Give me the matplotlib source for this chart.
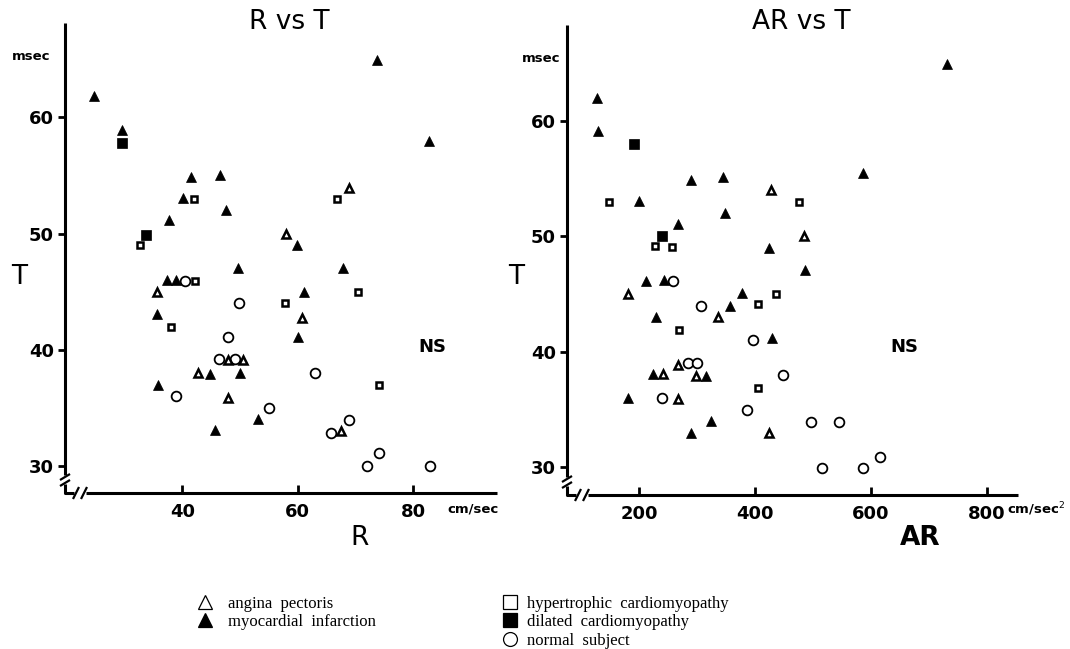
"""R vs T and AR vs T scatter plots with broken axes."""

import matplotlib
matplotlib.use("Agg")
import matplotlib.pyplot as plt
from matplotlib.lines import Line2D

# --- data: R (cm/sec) vs T (msec) ---
ap_r = [68.9, 57.9, 35.7, 60.8, 47.9, 50.5, 42.8, 48.0, 67.5]
ap_t = [53.9, 50.0, 45.0, 42.7, 39.1, 39.1, 38.0, 35.9, 33.0]
mi_r = [24.7, 29.5, 73.8, 82.8, 41.5, 46.6, 40.2, 47.5, 37.7, 59.8, 49.7,
        37.3, 39.0, 35.7, 67.9, 61.1, 60.0, 44.8, 50.0, 35.8, 45.7, 53.1]
mi_t = [61.8, 58.9, 64.9, 58.0, 54.9, 55.0, 53.1, 52.0, 51.2, 49.0, 47.0,
        46.0, 46.0, 43.1, 47.0, 45.0, 41.1, 37.9, 38.0, 37.0, 33.1, 34.1]
hc_r = [42.0, 66.8, 32.7, 42.2, 38.0, 70.5, 57.8, 74.0]
hc_t = [53.0, 53.0, 49.0, 45.9, 42.0, 45.0, 44.0, 37.0]
dc_r = [29.6, 33.7]
dc_t = [57.8, 49.9]
ns_r = [40.5, 49.8, 47.9, 46.4, 49.1, 63.0, 38.9, 55.0, 68.9, 65.8, 74.0,
        72.0, 82.9]
ns_t = [45.9, 44.0, 41.1, 39.2, 39.2, 38.0, 36.0, 35.0, 34.0, 32.9, 31.1,
        30.0, 30.0]

# --- data: AR (cm/sec^2) vs T (msec) ---
ap_ar = [427.8, 484.7, 180.5, 336.9, 266.8, 241.9, 297.8, 267.8, 424.9]
ap_t2 = [54.0, 50.0, 45.0, 43.0, 38.9, 38.1, 37.9, 35.9, 33.0]
mi_ar = [128, 129.8, 731, 587, 289.2, 345.5, 200, 348.4, 267.9, 424.9,
         211.5, 243.1, 377.2, 357.0, 228.8, 429, 487, 224.7, 315.6, 181.5,
         324.2, 289.7]
mi_t2 = [62.0, 59.1, 64.9, 55.5, 54.9, 55.1, 53.1, 52.0, 51.1, 49.0, 46.1,
         46.2, 45.1, 44.0, 43.0, 41.2, 47.1, 38.1, 37.9, 36.0, 34.0, 33.0]
hc_ar = [148.7, 475.6, 227.6, 257.5, 436.4, 404.8, 269.6, 405.9]
hc_t2 = [53.0, 53.0, 49.2, 49.1, 45.0, 44.1, 41.9, 36.9]
dc_ar = [190.9, 239.1]
dc_t2 = [58.0, 50.0]
ns_ar = [259.2, 307.0, 397.3, 284, 299.6, 448, 239.7, 386.9, 496.3, 545.1,
         516.3, 587.1, 615.4]
ns_t2 = [46.1, 44.0, 41.0, 39.0, 39.0, 38.0, 36.0, 35.0, 33.9, 33.9, 29.9,
         29.9, 30.9]

r_ticks = [40, 60, 80]
ar_ticks = [200, 400, 600, 800]
t_ticks = [30, 40, 50, 60]

W, H = 1070, 649
SANS = "DejaVu Sans"


def broken_axes(ax, pos):
    """Draw left/bottom axis lines with // break marks near the corner."""
    fx = lambda p: p / (pos[2] * W)
    fy = lambda p: p / (pos[3] * H)
    kw = dict(transform=ax.transAxes, clip_on=False, color="black",
              lw=2.2, solid_capstyle="butt")
    ax.plot([0, 0], [1, fy(18)], **kw)
    ax.plot([0, 0, fx(9)], [fy(9), 0, 0], **kw)
    ax.plot([fx(21), 1], [0, 0], **kw)
    thin = dict(kw, lw=1.6)
    for yy in (fy(10), fy(16)):
        ax.plot([-fx(5), fx(5)], [yy - fy(3), yy + fy(3)], **thin)
    for xx in (fx(11), fx(19)):
        ax.plot([xx - fx(3), xx + fx(3)], [-fy(6), fy(6)], **thin)


def style_axes(ax, pos, xlim, ylim, xticks):
    ax.set_xlim(*xlim)
    ax.set_ylim(*ylim)
    for s in ax.spines.values():
        s.set_visible(False)
    ax.set_xticks(xticks)
    ax.set_yticks(t_ticks)
    ax.tick_params(axis="y", direction="out", length=5, width=2, pad=3,
                   labelsize=13)
    ax.tick_params(axis="x", direction="in", length=6, width=2, pad=7,
                   labelsize=13)
    for lab in ax.get_xticklabels() + ax.get_yticklabels():
        lab.set_fontweight("bold")
        lab.set_family(SANS)
    broken_axes(ax, pos)


def scatter_groups(ax, xs, ys):
    (ap_x, mi_x, hc_x, dc_x, ns_x) = xs
    (ap_y, mi_y, hc_y, dc_y, ns_y) = ys
    ax.plot(ns_x, ns_y, "o", ls="none", ms=7, mfc="white", mec="black",
            mew=1.3)
    ax.plot(ap_x, ap_y, "^", ls="none", ms=6, mfc="white", mec="black",
            mew=1.8)
    ax.plot(mi_x, mi_y, "^", ls="none", ms=7.5, mfc="black", mec="black",
            mew=0.5)
    ax.plot(hc_x, hc_y, "s", ls="none", ms=5, mfc="white", mec="black",
            mew=1.8)
    ax.plot(dc_x, dc_y, "s", ls="none", ms=6.5, mfc="black", mec="black",
            mew=0.5)


def main() -> None:
    fig = plt.figure(figsize=(W / 100, H / 100), dpi=100, facecolor="white")

    pos1 = [65 / W, 1 - 493 / H, 432 / W, 470 / H]
    ax1 = fig.add_axes(pos1)
    scatter_groups(ax1, (ap_r, mi_r, hc_r, dc_r, ns_r),
                   (ap_t, mi_t, hc_t, dc_t, ns_t))
    style_axes(ax1, pos1, (19.7, 94.5), (27.7, 68.1), r_ticks)

    pos2 = [567 / W, 1 - 495 / H, 451 / W, 470 / H]
    ax2 = fig.add_axes(pos2)
    scatter_groups(ax2, (ap_ar, mi_ar, hc_ar, dc_ar, ns_ar),
                   (ap_t2, mi_t2, hc_t2, dc_t2, ns_t2))
    style_axes(ax2, pos2, (76, 854), (27.6, 68.3), ar_ticks)

    def ftext(x, y, s, **kw):
        fig.text(x / W, 1 - y / H, s, family=SANS, ha="center", va="center",
                 **kw)

    # titles and labels
    ftext(289, 22, "R vs T", fontsize=19)
    ftext(801, 22, "AR vs T", fontsize=19)
    ftext(31, 57, "msec", fontsize=9.5, fontweight="bold")
    ftext(541, 58, "msec", fontsize=9.5, fontweight="bold")
    ftext(19, 277, "T", fontsize=19)
    ftext(516, 277, "T", fontsize=19)
    ftext(360, 538, "R", fontsize=19)
    ftext(920, 538, "AR", fontsize=19, fontweight="bold")
    ftext(473, 509, "cm/sec", fontsize=9.5, fontweight="bold")
    ftext(1036, 509, "cm/sec$^{2}$", fontsize=9.5, fontweight="bold")
    ftext(432, 347, "NS", fontsize=13, fontweight="bold")
    ftext(904, 347, "NS", fontsize=13, fontweight="bold")

    # legend (two blocks)
    def h(marker, filled, ms):
        return Line2D([], [], ls="none", marker=marker, ms=ms,
                      mfc="black" if filled else "white", mec="black",
                      mew=0.9)

    leg_kw = dict(loc="upper left", frameon=False, borderpad=0,
                  borderaxespad=0, handlelength=1.0, labelspacing=0.14,
                  prop=dict(family="Liberation Serif", size=12))
    fig.legend([h("^", False, 10), h("^", True, 10)],
               ["angina  pectoris", "myocardial  infarction"],
               bbox_to_anchor=(197 / W, 1 - 596 / H), handletextpad=0.85,
               **leg_kw)
    fig.legend([h("s", False, 10), h("s", True, 10), h("o", False, 10)],
               ["hypertrophic  cardiomyopathy", "dilated  cardiomyopathy",
                "normal  subject"],
               bbox_to_anchor=(502 / W, 1 - 596 / H), handletextpad=0.5,
               **leg_kw)

    fig.savefig("out.png", dpi=100, facecolor="white")
    plt.close(fig)


if __name__ == "__main__":
    main()
